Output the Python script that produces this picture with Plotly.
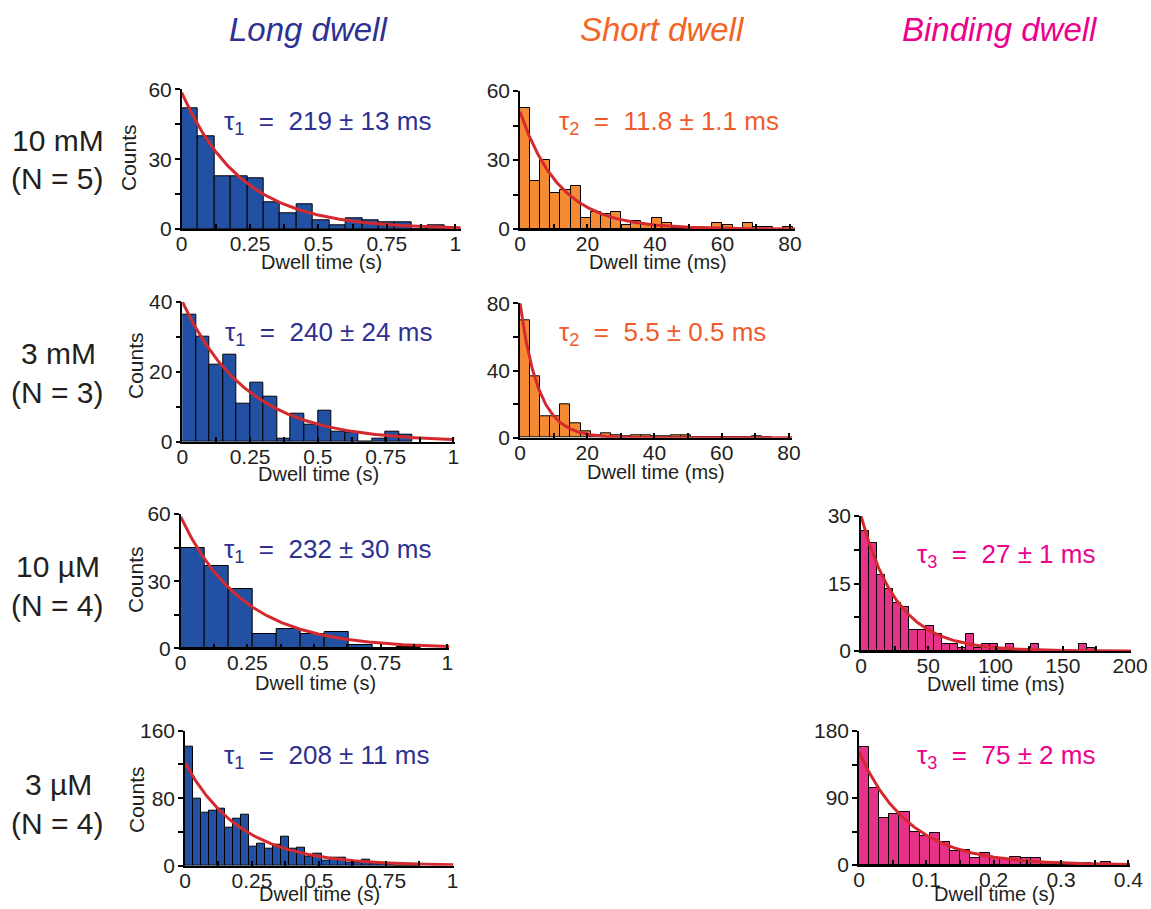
import numpy as np
import plotly.graph_objects as go

W, H = 1151, 909

# ---------------- data ----------------
# histogram counts (bins start at 0)
long_10mM = [52, 40, 22.5, 22.5, 21.6, 11.6, 6.7, 10.6, 3.7, 1.6, 4.6, 3.7, 2.7, 2.7, 0, 1.6, 0.5]
long_10mM_bin = 0.06
short_10mM = [52.8, 20.7, 30, 15.6, 17.1, 18.5, 4.7, 7.6, 6.4, 7.6, 1.6, 3.6, 1.7, 4.7, 2.5, 0.5,
              0, 0, 0, 2.5, 1.6, 0, 2.5, 0.7, 0.7, 0, 0.7]
short_10mM_bin = 3
long_3mM = [36.2, 30, 22.1, 25, 11, 17, 12.9, 1, 8.1, 5, 9, 3, 2.6, 0, 1, 2.9, 2]
long_3mM_bin = 0.05
short_3mM = [70, 36.8, 12.5, 12.5, 20, 8.5, 4, 1.6, 2.6, 1.6, 0.6, 1.6, 1.6, 0.6, 0.6, 1.6, 1.6,
             0.3, 0, 0, 0, 0, 0, 1, 0.3]
short_3mM_bin = 3
long_10uM = [44.8, 36.9, 26.6, 6.3, 8.5, 6.3, 7.5, 1.5, 0, 0.5]
long_10uM_bin = 0.09
binding_10uM = [26.7, 23.9, 16.9, 13.7, 10.7, 9.7, 4.7, 4.7, 5.6, 3.7, 1.6, 1.6, 0.6, 3.7, 0.6,
                1.6, 1.6, 0.6, 1.6, 0, 0, 1.6, 0, 0, 0, 0, 0, 1.6, 0.6]
binding_10uM_bin = 6
long_3uM = [141, 80, 63, 65, 67, 45, 56, 60, 23, 26.5, 20.6, 24.5, 34.4, 20.6, 21.7, 10.7, 13.8,
            6, 10, 10, 3.5, 3.5, 7.5, 2, 2, 1, 0.5, 0.5, 0.5]
long_3uM_bin = 0.03
binding_3uM = [159, 104, 63.6, 68, 70.8, 44.3, 39, 42.5, 30.4, 19.3, 20.2, 9.9, 15.7, 9, 7.6, 11.2,
               9, 9.9, 4.5, 3.1, 3.1, 2.2, 2.2, 0.9, 4.5, 1]
binding_3uM_bin = 0.015

# exponential fits: amplitude and time constant (in axis units)
fit_amp = [58.6, 51, 40, 80, 58.7, 30, 122, 152]
fit_tau = [0.219, 11.8, 0.240, 5.5, 0.232, 27, 0.208, 0.075]

NB = "\u00a0"
tau_labels = [f"τ<sub>1</sub>{NB} ={NB} 219 ± 13 ms", f"τ<sub>2</sub>{NB} ={NB} 11.8 ± 1.1 ms",
              f"τ<sub>1</sub>{NB} ={NB} 240 ± 24 ms", f"τ<sub>2</sub>{NB} ={NB} 5.5 ± 0.5 ms",
              f"τ<sub>1</sub>{NB} ={NB} 232 ± 30 ms", f"τ<sub>3</sub>{NB} ={NB} 27 ± 1 ms",
              f"τ<sub>1</sub>{NB} ={NB} 208 ± 11 ms", f"τ<sub>3</sub>{NB} ={NB} 75 ± 2 ms"]

column_titles = ["Long dwell", "Short dwell", "Binding dwell"]
row_conc = ["10 mM", "3 mM", "10 µM", "3 µM"]
row_n = ["(N = 5)", "(N = 3)", "(N = 4)", "(N = 4)"]

# ---------------- style ----------------
BLUE_BAR, ORANGE_BAR, PINK_BAR = "#2251A3", "#F58A34", "#E7328A"
BLUE_TXT, ORANGE_TXT, PINK_TXT = "#2E3192", "#F26522", "#EC008C"
FIT = "#D42A2F"
FONT = "Liberation Sans, Arial, Helvetica, sans-serif"
INK = "#231F20"

def px(x):
    return x / W

def py(y):
    return 1 - y / H

LONG_X = dict(xt=[0, .25, .5, .75, 1], xl=["0", "0.25", "0.5", "0.75", "1"], xm=0.125)
MS80_X = dict(xt=[0, 20, 40, 60, 80], xl=["0", "20", "40", "60", "80"], xm=10)

panels = [
    dict(d=long_10mM, b=long_10mM_bin, c=BLUE_BAR, t=BLUE_TXT, box=(181.7, 460.7, 89.3, 229),
         xr=1.02, ym=60, ym_minor=15, xtitle="Dwell time (s)", tdy=33,
         counts=(128, 157), tpos=(222, 122), **LONG_X),
    dict(d=short_10mM, b=short_10mM_bin, c=ORANGE_BAR, t="#F15A2B", box=(520, 795, 91, 229),
         xr=81.5, ym=60, ym_minor=15, xtitle="Dwell time (ms)", tdy=33,
         counts=None, tpos=(557, 122), **MS80_X),
    dict(d=long_3mM, b=long_3mM_bin, c=BLUE_BAR, t=BLUE_TXT, box=(182.3, 454.5, 301.7, 441.7),
         xr=1.004, ym=40, ym_minor=10, xtitle="Dwell time (s)", tdy=32,
         counts=(135, 366), tpos=(223, 333), **LONG_X),
    dict(d=short_3mM, b=short_3mM_bin, c=ORANGE_BAR, t="#F15A2B", box=(520, 792.3, 303.3, 437.7),
         xr=81, ym=80, ym_minor=20, xtitle="Dwell time (ms)", tdy=34,
         counts=None, tpos=(557, 333), **MS80_X),
    dict(d=long_10uM, b=long_10uM_bin, c=BLUE_BAR, t=BLUE_TXT, box=(180.7, 449.3, 514, 648.3),
         xr=1.0075, ym=60, ym_minor=15, xtitle="Dwell time (s)", tdy=35,
         counts=(135, 580), tpos=(222, 550), **LONG_X),
    dict(d=binding_10uM, b=binding_10uM_bin, c=PINK_BAR, t=PINK_TXT, box=(861, 1131, 516, 651),
         xr=200.7, ym=30, ym_minor=7.5, xtitle="Dwell time (ms)", tdy=33,
         counts=None, tpos=(915, 555),
         xt=[0, 50, 100, 150, 200], xl=["0", "50", "100", "150", "200"], xm=25),
    dict(d=long_3uM, b=long_3uM_bin, c=BLUE_BAR, t=BLUE_TXT, box=(185, 453.5, 730.7, 865.7),
         xr=1.003, ym=160, ym_minor=40, xtitle="Dwell time (s)", tdy=28,
         counts=(136, 800), tpos=(222, 756), **LONG_X),
    dict(d=binding_3uM, b=binding_3uM_bin, c=PINK_BAR, t=PINK_TXT, box=(859, 1130, 731, 865),
         xr=0.4025, ym=180, ym_minor=45, xtitle="Dwell time (s)", tdy=29,
         counts=None, tpos=(915, 756),
         xt=[0, .1, .2, .3, .4], xl=["0", "0.1", "0.2", "0.3", "0.4"], xm=0.05),
]

fig = go.Figure()
layout = dict(width=W, height=H, margin=dict(l=0, r=0, t=0, b=0, pad=0, autoexpand=False),
              paper_bgcolor="white", plot_bgcolor="white", showlegend=False,
              font=dict(family=FONT, color=INK), bargap=0)
annotations = []

axis_common = dict(showline=True, linecolor="black", linewidth=1.5, ticklen=5, tickwidth=1.5,
                   tickcolor="black", showgrid=False, zeroline=False, automargin=False,
                   tickfont=dict(size=21, color=INK, family=FONT), tickmode="array",
                   fixedrange=True)

for i, p in enumerate(panels):
    k = i + 1
    xa, ya = f"x{k}", f"y{k}"
    left, right, top, bottom = p["box"]
    counts = np.array(p["d"], dtype=float)
    centers = (np.arange(len(counts)) + 0.5) * p["b"]
    fig.add_trace(go.Bar(x=centers, y=counts, width=p["b"], marker=dict(
        color=p["c"], line=dict(color="black", width=1)), xaxis=xa, yaxis=ya,
        hoverinfo="x+y"))
    t = np.linspace(0, p["xr"], 300)
    fig.add_trace(go.Scatter(x=t, y=fit_amp[i] * np.exp(-t / fit_tau[i]), mode="lines",
                             line=dict(color=FIT, width=3), xaxis=xa, yaxis=ya,
                             hoverinfo="skip"))
    layout[f"xaxis{k}"] = dict(axis_common, domain=[px(left), px(right)], anchor=ya,
                               range=[0, p["xr"]], tickvals=p["xt"], ticktext=p["xl"],
                               ticks="inside", ticklabelstandoff=-5,
                               minor=dict(dtick=p["xm"], tick0=0, ticks="inside", ticklen=5,
                                          tickwidth=1.5, tickcolor="black", showgrid=False))
    layout[f"yaxis{k}"] = dict(axis_common, domain=[py(bottom), py(top)], anchor=xa,
                               range=[0, p["ym"]], tickvals=[0, p["ym"] / 2, p["ym"]],
                               ticktext=[f"{v:g}" for v in (0, p["ym"] / 2, p["ym"])],
                               ticks="outside", ticklabelstandoff=-1,
                               minor=dict(dtick=p["ym_minor"], tick0=0, ticks="outside",
                                          ticklen=5, tickwidth=1.5, tickcolor="black",
                                          showgrid=False))
    # tau label
    annotations.append(dict(text=tau_labels[i], x=px(p["tpos"][0]), y=py(p["tpos"][1]),
                            xref="paper", yref="paper", xanchor="left", yanchor="middle",
                            showarrow=False, font=dict(size=26, color=p["t"], family=FONT)))
    # x axis title
    annotations.append(dict(text=p["xtitle"], x=px((left + right) / 2),
                            y=py(bottom + p["tdy"]), xref="paper", yref="paper",
                            xanchor="center", yanchor="middle", showarrow=False,
                            font=dict(size=20, color=INK, family=FONT)))
    if p["counts"]:
        cx, cy = p["counts"]
        annotations.append(dict(text="Counts", x=px(cx), y=py(cy), xref="paper", yref="paper",
                                xanchor="center", yanchor="middle", textangle=-90,
                                showarrow=False, font=dict(size=21, color=INK, family=FONT)))

# column titles
for title, xc, col in zip(column_titles, [308, 662, 1000], [BLUE_TXT, ORANGE_TXT, PINK_TXT]):
    annotations.append(dict(text=f"<i>{title}</i>", x=px(xc), y=py(30), xref="paper",
                            yref="paper", xanchor="center", yanchor="middle", showarrow=False,
                            font=dict(size=33, color=col, family=FONT)))

# row labels
for conc, n, yc in zip(row_conc, row_n, [140, 353, 566, 784]):
    annotations.append(dict(text=conc, x=px(58), y=py(yc), xref="paper", yref="paper",
                            xanchor="center", yanchor="middle", showarrow=False,
                            font=dict(size=30, color=INK, family=FONT)))
    annotations.append(dict(text=n, x=px(57), y=py(yc + 39), xref="paper", yref="paper",
                            xanchor="center", yanchor="middle", showarrow=False,
                            font=dict(size=30, color=INK, family=FONT)))

layout["annotations"] = annotations
fig.update_layout(**layout)
fig.write_html("out.html", config={"displayModeBar": False},
               post_script="document.body.style.margin='0';"
                           "document.body.style.overflow='hidden';")
